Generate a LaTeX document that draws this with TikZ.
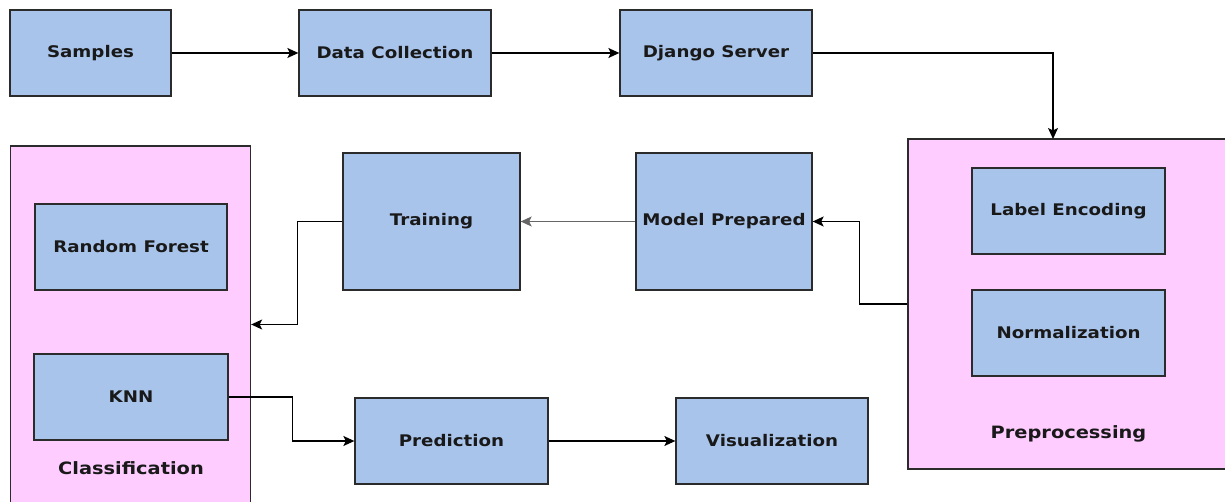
\documentclass[tikz,border=0pt]{standalone}
\usepackage{fontspec}
\newfontfamily\lbl{DejaVu Sans}[FakeStretch=1.14]
\usetikzlibrary{arrows.meta}
\definecolor{boxblue}{HTML}{A9C4EB}
\definecolor{boxpink}{HTML}{FFCCFF}
\definecolor{edge}{HTML}{2B2B2B}
\tikzset{
  blk/.style={draw=edge, line width=1.3pt, fill=boxblue, rectangle, inner sep=0pt,
    font=\lbl\fontsize{16}{18}\selectfont\bfseries, text=black!90},
  grp/.style={draw=edge, line width=1.3pt, fill=boxpink, rectangle, inner sep=0pt},
  grplabel/.style={font=\lbl\fontsize{17}{19}\selectfont\bfseries, text=black!90},
  conn/.style={draw=black, line width=1.3pt, -{Stealth[length=11pt,width=10pt,inset=2.5pt]}},
}
\begin{document}
\begin{tikzpicture}[x=1pt,y=-1pt]
\useasboundingbox (0,0) rectangle (1225,502);
% top row
\node[blk, minimum width=161pt, minimum height=86pt] (samples) at (90.5,53) {Samples};
\node[blk, minimum width=192pt, minimum height=86pt] (datacoll) at (395,53) {Data Collection};
\node[blk, minimum width=192pt, minimum height=86pt] (django) at (716,53) {Django Server};
% preprocessing group
\node[grp, minimum width=318pt, minimum height=330pt] (preproc) at (1067,304) {};
\node[blk, minimum width=193pt, minimum height=86pt] (labelenc) at (1068.5,211) {Label Encoding};
\node[blk, minimum width=193pt, minimum height=86pt] (norm) at (1068.5,333) {Normalization};
\node[grplabel] (preproclbl) at (1068.5,434) {Preprocessing};
% middle row
\node[blk, minimum width=176pt, minimum height=137pt] (model) at (724,221.5) {Model Prepared};
\node[blk, minimum width=177pt, minimum height=137pt] (training) at (431.5,221.5) {Training};
% classification group
\node[grp, minimum width=240pt, minimum height=357pt] (classbox) at (130.5,324.5) {};
\node[blk, minimum width=192pt, minimum height=86pt] (rf) at (131,247) {Random Forest};
\node[blk, minimum width=194pt, minimum height=86pt] (knn) at (131,397) {KNN};
\node[grplabel] (classlbl) at (131,468) {Classification};
% bottom row
\node[blk, minimum width=193pt, minimum height=86pt] (pred) at (451.5,441) {Prediction};
\node[blk, minimum width=192pt, minimum height=86pt] (vis) at (772,441) {Visualization};
% connectors
\coordinate (pin) at (1053,139);
\draw[conn] (samples.east) -- (datacoll.west);
\draw[conn] (datacoll.east) -- (django.west);
\draw[conn] (django.east) -| (pin);
\draw[conn] (preproc.west) -- ++(-48,0) |- (model.east);
\draw[conn, draw=black!60, fill=black] (model.west) -- (training.east);
\draw[conn] (training.west) -- ++(-45,0) |- (classbox.east);
\draw[conn] (knn.east) -- ++(64,0) |- (pred.west);
\draw[conn] (pred.east) -- (vis.west);
\end{tikzpicture}
\end{document}
